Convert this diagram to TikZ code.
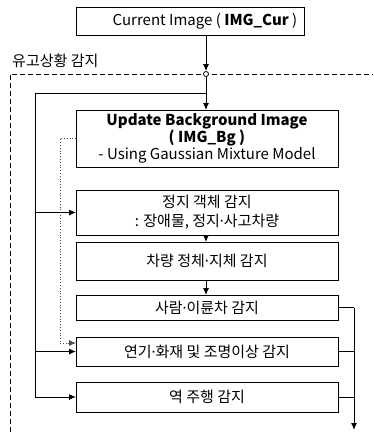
\documentclass[tikz,border=0pt]{standalone}
\usepackage{fontspec}
\setmainfont{Noto Sans CJK KR}
\newfontfamily\latinfont{Noto Sans}
\newcommand{\mdot}{{\latinfont ·}}
\usetikzlibrary{arrows.meta}
\begin{document}
\begin{tikzpicture}[x=1pt,y=-1pt,
  box/.style={draw, line width=1pt, inner sep=0pt, outer sep=0pt, anchor=north west,
    minimum width=262pt, align=center, font=\fontsize{15}{17}\selectfont},
  conn/.style={line width=1pt},
  arr/.style={line width=1pt, -{Latex[length=7pt,width=6pt]}},
  dotarr/.style={line width=0.8pt, dotted, black!70, -{Latex[length=7pt,width=6pt]}},
  frame/.style={line width=0.9pt, dash pattern=on 5pt off 3pt}]
\useasboundingbox (0,0) rectangle (373,432);

% boxes
\node[box, minimum width=228pt, minimum height=28pt] (cur) at (76,7)
  {\hspace*{30pt}Current Image ( \textbf{IMG\_Cur} )};
\node[box, minimum height=57pt] (upd) at (76,110)
  {\textbf{Update Background Image}\\ \textbf{( IMG\_Bg )}\\ - Using Gaussian Mixture Model};
\node[box, minimum height=45pt, font=\fontsize{15}{19}\selectfont] (obj) at (76,190) {정지 객체 감지\\ : 장애물, 정지\mdot 사고차량};
\node[box, minimum height=38pt] (cong) at (76,242) {차량 정체\mdot 지체 감지};
\node[box, minimum height=25pt] (ped) at (76,295) {사람\mdot 이륜차 감지};
\node[box, minimum height=29pt] (fire) at (76,337) {연기\mdot 화재 및 조명이상 감지};
\node[box, minimum height=30pt] (wrong) at (76,382) {역 주행 감지};

% frame and label
\node[anchor=west, inner sep=0pt, font=\fontsize{15}{17}\selectfont] (lbl) at (12,61) {유고상황 감지};
\draw[frame] (10,432) -- (10,74) -- (373,74);

% junction
\node[draw, circle, fill=white, inner sep=0pt, minimum size=5pt, line width=0.8pt] (jc) at (206,74) {};
\coordinate (split) at (206,93);
\coordinate (ltop) at (35,93);
\coordinate (lbot) at (35,397);
\draw[arr] (cur.south -| jc) -- (jc.north);
\draw[conn] (jc.south) -- (split);
\draw[arr] (split) -- (upd.north -| split);
\draw[conn] (split) -- (ltop) -- (lbot);
\draw[arr] (ltop |- obj.west) -- (obj.west);
\draw[arr] (ltop |- fire.west) -- (fire.west);
\draw[arr] (lbot) -- (wrong.west);

% dotted feedback
\coordinate (dtop) at (60,138.5);
\coordinate (dbot) at (60,343);
\draw[line width=0.8pt, dotted, black!70] (upd.west) -- (dtop) -- (dbot);
\draw[dotarr] (dbot) -- (fire.west |- dbot);

% vertical arrows between boxes
\draw[arr] (obj.south -| split) -- (cong.north -| split);
\draw[arr] (cong.south -| split) -- (ped.north -| split);

% right output bus
\coordinate (rtop) at (354,307.5);
\coordinate (rbot) at (354,430);
\draw[conn] (ped.east) -- (rtop);
\draw[conn] (fire.east) -- (fire.east -| rtop);
\draw[conn] (wrong.east) -- (wrong.east -| rtop);
\draw[arr] (rtop) -- (rbot);
\end{tikzpicture}
\end{document}
